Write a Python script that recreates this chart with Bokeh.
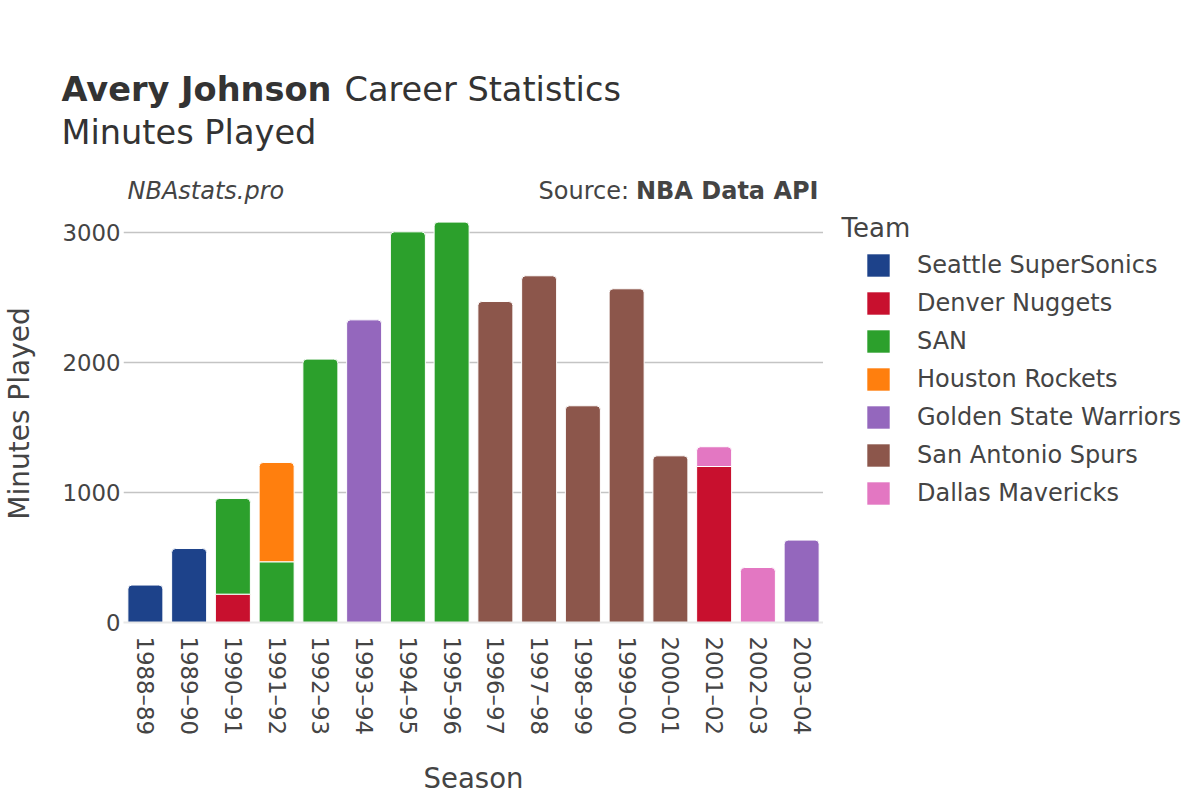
import math
from bokeh.plotting import figure
from bokeh.layouts import column, row
from bokeh.models import (ColumnDataSource, FactorRange, Range1d, FixedTicker,
                          Label, Legend, LegendItem)
from bokeh.embed import file_html
from bokeh.resources import INLINE

# ---------------- data ----------------
seasons = ["1988–89", "1989–90", "1990–91", "1991–92", "1992–93", "1993–94",
           "1994–95", "1995–96", "1996–97", "1997–98", "1998–99", "1999–00",
           "2000–01", "2001–02", "2002–03", "2003–04"]

teams = ["Seattle SuperSonics", "Denver Nuggets", "SAN", "Houston Rockets",
         "Golden State Warriors", "San Antonio Spurs", "Dallas Mavericks"]
team_colors = ["#1d428a", "#c8102e", "#2ca02c", "#ff7f0e",
               "#9467bd", "#8c564b", "#e377c2"]

seattle = [288, 569, 0, 0, 0, 0, 0, 0, 0, 0, 0, 0, 0, 0, 0, 0]
denver = [0, 0, 218, 0, 0, 0, 0, 0, 0, 0, 0, 0, 0, 1200, 0, 0]
san = [0, 0, 736, 467, 2026, 0, 3005, 3080, 0, 0, 0, 0, 0, 0, 0, 0]
houston = [0, 0, 0, 764, 0, 0, 0, 0, 0, 0, 0, 0, 0, 0, 0, 0]
gsw = [0, 0, 0, 0, 0, 2328, 0, 0, 0, 0, 0, 0, 0, 0, 0, 634]
spurs = [0, 0, 0, 0, 0, 0, 0, 0, 2469, 2667, 1667, 2567, 1282, 0, 0, 0]
dallas = [0, 0, 0, 0, 0, 0, 0, 0, 0, 0, 0, 0, 0, 152, 423, 0]

series = [seattle, denver, san, houston, gsw, spurs, dallas]

FONT = "DejaVu Sans"
TXT = "#444444"
TITLE = "#333333"

W, H = 1184, 784
HEAD = 204                    # height of the header strip
FL, FR, FB = 122, 822, 622    # chart frame left / right / bottom (page px)
PX_PER_UNIT = 0.13            # vertical pixels per minute


def blank_fig(w, h):
    f = figure(frame_width=w, frame_height=h, x_range=Range1d(0, w),
               y_range=Range1d(0, h), x_axis_type=None, y_axis_type=None,
               min_border=0, min_border_left=0, min_border_right=0,
               min_border_top=0, min_border_bottom=0,
               output_backend="svg", toolbar_location=None, tools="")
    f.title.visible = False
    f.outline_line_color = None
    f.grid.visible = False
    f.background_fill_color = "white"
    f.border_fill_color = "white"
    return f


def add_text(fig, fig_top, fig_h, x, y_center, text, size, **kw):
    """x: page px; y_center: page px of the text's visual centre."""
    kw.setdefault("text_color", TXT)
    kw.setdefault("text_font", FONT)
    kw.setdefault("text_baseline", "alphabetic")
    fig.add_layout(Label(x=x, y=(fig_top + fig_h) - y_center,
                         x_units="screen", y_units="screen",
                         text=text, text_font_size=size, **kw))


# ---------------- header ----------------
head = blank_fig(W, HEAD)
add_text(head, 0, HEAD, 61, 89, "Avery Johnson", "33.6px",
         text_font_style="bold", text_color=TITLE)
add_text(head, 0, HEAD, 344, 89, "Career Statistics", "33.6px", text_color=TITLE)
add_text(head, 0, HEAD, 61, 132, "Minutes Played", "33.6px", text_color=TITLE)
add_text(head, 0, HEAD, 127, 190, "NBAstats.pro", "24px", text_font_style="italic")
add_text(head, 0, HEAD, 538, 190, "Source:", "24px")
add_text(head, 0, HEAD, 818, 190, "NBA Data API", "24px", text_align="right",
         text_font_style="bold")

# ---------------- main chart ----------------
frame_h = FB - HEAD
p = figure(x_range=FactorRange(*seasons),
           y_range=Range1d(0, frame_h / PX_PER_UNIT),
           frame_width=FR - FL, frame_height=frame_h,
           min_border_left=FL, min_border_right=0,
           min_border_top=0, min_border_bottom=0,
           output_backend="svg", toolbar_location=None, tools="")
p.title.visible = False
p.outline_line_color = None
p.background_fill_color = "white"
p.border_fill_color = "white"

n = len(seasons)
for ti, (team, col, vals) in enumerate(zip(teams, team_colors, series)):
    top_seg = dict(x=[], bottom=[], top=[])
    low_seg = dict(x=[], bottom=[], top=[])
    for i in range(n):
        v = vals[i]
        if v <= 0:
            continue
        base = sum(series[k][i] for k in range(ti))
        is_top = all(series[k][i] <= 0 for k in range(ti + 1, len(series)))
        d = top_seg if is_top else low_seg
        d["x"].append(seasons[i])
        d["bottom"].append(base)
        d["top"].append(base + v)
    if top_seg["x"]:
        p.vbar(x="x", bottom="bottom", top="top", width=0.8,
               source=ColumnDataSource(top_seg), fill_color=col,
               line_color="white", line_width=1, border_radius=(4, 4, 0, 0))
    if low_seg["x"]:
        p.vbar(x="x", bottom="bottom", top="top", width=0.8,
               source=ColumnDataSource(low_seg), fill_color=col,
               line_color="white", line_width=1)

p.xgrid.grid_line_color = None
p.ygrid.ticker = FixedTicker(ticks=[1000, 2000, 3000])
p.ygrid.grid_line_color = "#c4c4c4"
p.ygrid.grid_line_width = 1.5

p.yaxis.ticker = FixedTicker(ticks=[0, 1000, 2000, 3000])
p.yaxis.axis_line_color = None
p.yaxis.major_tick_line_color = None
p.yaxis.minor_tick_line_color = None
p.yaxis.major_tick_out = 0
p.yaxis.major_tick_in = 0
p.yaxis.major_label_text_font = FONT
p.yaxis.major_label_text_font_size = "22.8px"
p.yaxis.major_label_text_color = TXT
p.yaxis.major_label_standoff = 3
p.yaxis.axis_label = "Minutes Played"
p.yaxis.axis_label_text_font = FONT
p.yaxis.axis_label_text_font_size = "28px"
p.yaxis.axis_label_text_font_style = "normal"
p.yaxis.axis_label_text_color = TXT
p.yaxis.axis_label_standoff = 23

p.xaxis.axis_line_color = "#e8e8e8"
p.xaxis.axis_line_width = 2
p.xaxis.major_tick_line_color = None
p.xaxis.minor_tick_line_color = None
p.xaxis.major_tick_out = 0
p.xaxis.major_tick_in = 0
p.xaxis.major_label_orientation = -math.pi / 2
p.xaxis.major_label_text_font = FONT
p.xaxis.major_label_text_font_size = "22.8px"
p.xaxis.major_label_text_color = TXT
p.xaxis.major_label_standoff = 14
p.xaxis.axis_label = "Season"
p.xaxis.axis_label_text_font = FONT
p.xaxis.axis_label_text_font_size = "27.5px"
p.xaxis.axis_label_text_font_style = "normal"
p.xaxis.axis_label_text_color = TXT
p.xaxis.axis_label_standoff = 24

# ---------------- legend panel ----------------
LW, LH = W - FR, H - HEAD
leg = blank_fig(LW, LH)
items = []
for team, col in zip(teams, team_colors):
    # off-screen single-point renderer, used only for the legend swatch
    r = leg.vbar(x=[-1000], bottom=[-1001], top=[-1000], width=1,
                 fill_color=col, line_color=None)
    items.append(LegendItem(label=team, renderers=[r]))

add_text(leg, HEAD, LH, 840 - FR, 227, "Team", "26px")
legend = Legend(items=items, location=(41, H - 507),
                orientation="vertical", glyph_width=28, glyph_height=28,
                label_height=28, spacing=10, padding=0, margin=0,
                label_standoff=25, label_text_font=FONT,
                label_text_font_size="24px", label_text_color=TXT,
                background_fill_alpha=0, border_line_alpha=0)
leg.add_layout(legend, "center")

layout = column(head, row(p, leg, spacing=0), spacing=0)
open("out.html", "w").write(file_html(layout, INLINE))
